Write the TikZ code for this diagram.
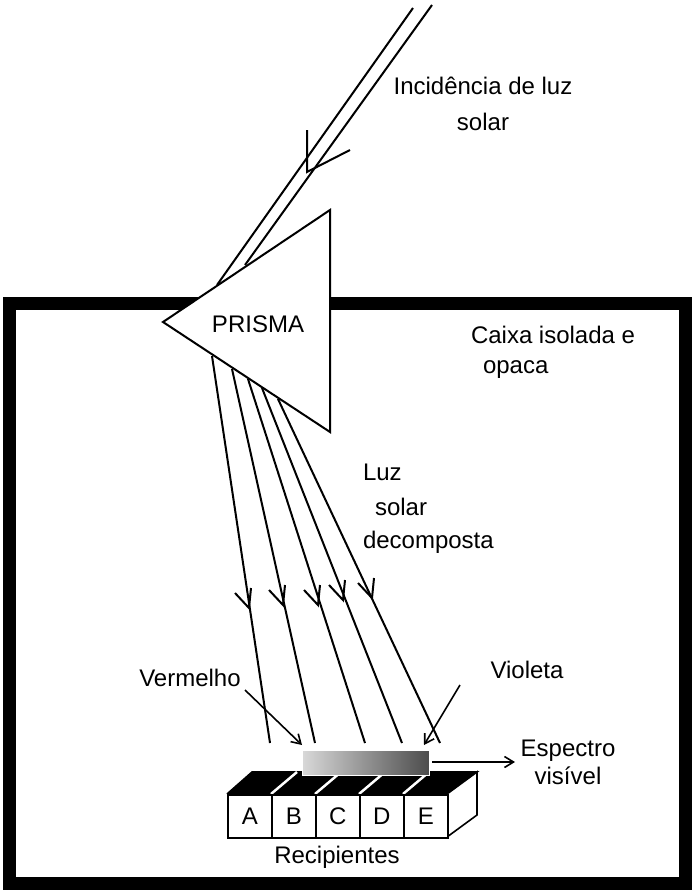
\documentclass[tikz,border=0pt]{standalone}
\usepackage{fontspec}
\usetikzlibrary{arrows.meta}
\setmainfont{Liberation Sans}
\begin{document}
\begin{tikzpicture}[x=1pt,y=-1pt,line width=2pt,
  lbl/.style={font=\fontsize{24}{28}\selectfont,inner sep=0pt},
  ray/.style={line width=2pt},
  chev/.style={line width=2pt},
  pt/.style={-{Straight Barb[length=9pt,width=11pt]}}]
\useasboundingbox (0,0) rectangle (697,894);
% box
\draw[line width=13pt] (9,303) rectangle (685,883);
% incident rays
\coordinate (i1s) at (413,8); \coordinate (i1e) at (217,285);
\coordinate (i2s) at (432,5); \coordinate (i2e) at (245,265);
\draw[ray] (i1s) -- (i1e);
\draw[ray] (i2s) -- (i2e);
\draw[chev] (307,130) -- (307,172) -- (350,150);
% prism
\draw[fill=white] (163,322) coordinate (pl) -- (330,210) coordinate (pt1) -- (330,432) coordinate (pb) -- cycle;
\node[lbl] (prisma) at (258,324) {PRISMA};
% refracted rays
\foreach \sx/\sy/\ex/\cx/\cy in {212/356/270/249/608, 232/369/315/283/605, 248/379/365/318/605, 262/388/402/343/600, 278/399/440/372/598}{
  \draw[ray] (\sx,\sy) -- (\ex,743);
  \draw[chev] (\cx-14,\cy-15) -- (\cx,\cy) -- (\cx+2,\cy-20);
}
% recipients
\fill[black] (227,794) -- (447,794) -- (477,772) -- (252,772) -- cycle;
\draw[line width=1.6pt] (227,794) -- (252,772) -- (477,772) -- (447,794);
\foreach \x in {271,315,359,403}{
  \draw[white,line width=2.5pt] (\x,794) -- (\x+26,772);
}
\draw[line width=1.6pt,fill=white] (447,794) -- (477,772) -- (477,815) -- (447,837) -- cycle;
\foreach \l/\x in {A/227,B/271,C/315,D/359,E/403}{
  \node[draw,line width=1.6pt,fill=white,minimum width=44pt,minimum height=43pt,anchor=north west,inner sep=0pt,font=\fontsize{24}{28}\selectfont] (box\l) at (\x,794) {\l};
}
% gradient bar
\shade[left color=gray!30,right color=black!70,draw=white,line width=1pt] (302,750) rectangle (429,775);
\coordinate (barR) at (432,762);
% arrows
\node[lbl] (verm) at (190,678) {Vermelho};
\node[lbl] (viol) at (527,670) {Violeta};
\draw[pt,line width=1.6pt] (245,690) -- (302,745);
\draw[pt,line width=1.6pt] (460,685) -- (424,745);
\node[lbl,align=center] (esp) at (568,762) {Espectro\\visível};
\draw[pt,line width=1.6pt] (barR) -- (515,762);
% labels
\node[lbl] (inc1) at (483,86) {Incidência de luz};
\node[lbl] (inc2) at (483,122) {solar};
\node[lbl,anchor=west] (cx1) at (470,335) {Caixa isolada e};
\node[lbl,anchor=west] (cx2) at (482,370) {opaca};
\node[lbl,anchor=west] (lz1) at (362,472) {Luz};
\node[lbl,anchor=west] (lz2) at (374,507) {solar};
\node[lbl,anchor=west] (lz3) at (362,542) {decomposta};
\node[lbl] (rec) at (337,857) {Recipientes};
\end{tikzpicture}
\end{document}
